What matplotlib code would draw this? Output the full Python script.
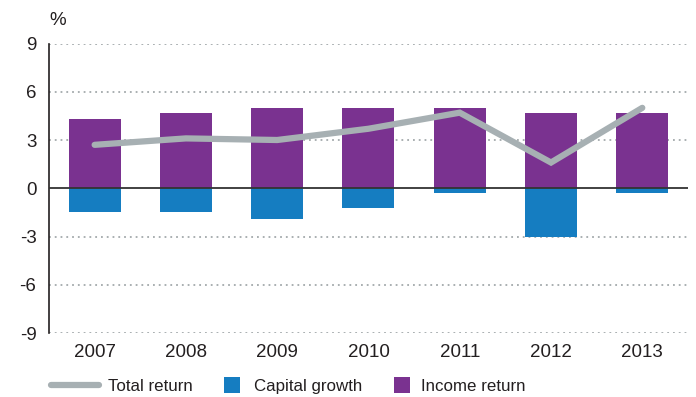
import numpy as np
import matplotlib.pyplot as plt
from matplotlib.lines import Line2D
from matplotlib.patches import Rectangle

plt.rcParams['font.family'] = ['Liberation Sans', 'DejaVu Sans']

years = ['2007', '2008', '2009', '2010', '2011', '2012', '2013']
income_return = [4.3, 4.7, 5.0, 5.0, 5.0, 4.7, 4.7]
capital_growth = [-1.5, -1.5, -1.9, -1.2, -0.3, -3.0, -0.3]
total_return = [2.7, 3.1, 3.0, 3.7, 4.7, 1.6, 5.0]

purple = '#7a3290'
blue = '#157dc1'
grey = '#a7b0b3'
ink = '#231f20'

W, H = 696, 397
fig = plt.figure(figsize=(W / 100, H / 100), dpi=100)
ax = fig.add_axes([0.0704, 0.1612, 0.918, 0.7292])

x = np.arange(len(years))
w = 0.57

# dotted gridlines
for v in [9, 6, 3, -3, -6, -9]:
    ax.axhline(v, color='#a3a9ab', lw=1.3, ls=(0, (1, 2.2)), zorder=0)

ax.bar(x, income_return, width=w, color=purple, zorder=2)
ax.bar(x, capital_growth, width=w, color=blue, zorder=2)
ax.axhline(0, color='#333333', lw=1.3, zorder=3)
ax.plot(x, total_return, color=grey, lw=4.5, solid_capstyle='round',
        solid_joinstyle='miter', zorder=4)

ax.set_xlim(-0.5, 6.5)
ax.set_ylim(-9, 9)
ax.set_yticks([9, 6, 3, 0, -3, -6, -9])
ax.set_yticklabels(['9', '6', '3', '0', '-3', '-6', '-9'])
ax.set_xticks(x)
ax.set_xticklabels(years)
ax.tick_params(axis='both', length=0, labelsize=13.5, colors=ink)
ax.tick_params(axis='y', pad=9)
ax.tick_params(axis='x', pad=8)
for s in ['top', 'right', 'bottom']:
    ax.spines[s].set_visible(False)
ax.spines['left'].set_color(ink)
ax.spines['left'].set_linewidth(1.2)

fig.text(49 / W, 1 - 25 / H, '%', fontsize=13.5, color=ink, ha='left', va='baseline')

# legend drawn by hand in pixel positions
ly = 1 - 385 / H
base = 1 - 391 / H
fig.add_artist(Line2D([51 / W, 99 / W], [ly, ly], color=grey, lw=4.5,
                      solid_capstyle='round', transform=fig.transFigure))
fig.text(108 / W, base, 'Total return', fontsize=12.2, color=ink, va='baseline')
for x0, col, lab, tx in [(224, blue, 'Capital growth', 254),
                         (394, purple, 'Income return', 421)]:
    fig.add_artist(Rectangle((x0 / W, 1 - 393 / H), 16 / W, 16 / H,
                             facecolor=col, transform=fig.transFigure))
    fig.text(tx / W, base, lab, fontsize=12.2, color=ink, va='baseline')

fig.savefig('out.png', dpi=100)
